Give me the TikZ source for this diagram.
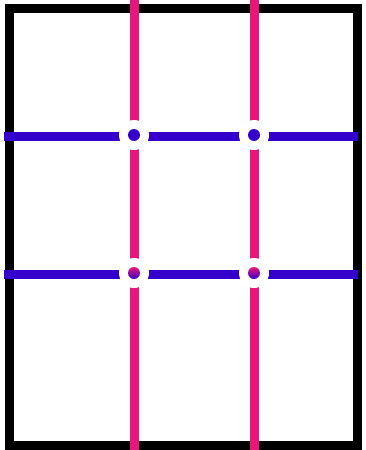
\documentclass[tikz,border=0pt]{standalone}
\usepackage{tikz}
\usetikzlibrary{positioning}
\definecolor{gridpink}{RGB}{232,22,122}
\definecolor{gridblue}{RGB}{52,0,204}

\begin{document}
\begin{tikzpicture}[x=1pt, y=-1pt,
  frame/.style={draw=black, line width=9pt},
  vline/.style={draw=gridpink, line width=9pt},
  hline/.style={draw=gridblue, line width=9pt},
  gap/.style={circle, fill=white, inner sep=0pt, minimum size=30pt},
  knot/.style={circle, fill=gridblue, inner sep=0pt, minimum size=12pt},
  knotmix/.style={circle, inner sep=0pt, minimum size=12pt,
                  top color=gridpink, bottom color=gridblue}
]
\useasboundingbox (0,0) rectangle (365,450);
\fill[white] (0,0) rectangle (365,450);
\draw[frame] (9,8) rectangle (357.5,445);

% grid lines
\coordinate (v1t) at (134,0);   \coordinate (v1b) at (134,450);
\coordinate (v2t) at (254,0);   \coordinate (v2b) at (254,450);
\coordinate (h1l) at (4,136);   \coordinate (h1r) at (358,136);
\coordinate (h2l) at (4,274);   \coordinate (h2r) at (358,274);
\draw[vline] (v1t) -- (v1b);
\draw[vline] (v2t) -- (v2b);
\draw[hline] (h1l) -- (h1r);
\draw[hline] (h2l) -- (h2r);

% crossings
\node[gap] (g11) at (134,135) {};
\node[gap] (g21) at (254,135) {};
\node[gap] (g12) at (134,273) {};
\node[gap] (g22) at (254,273) {};
\node[knot]    (k11) at (g11) {};
\node[knot]    (k21) at (g21) {};
\node[knotmix] (k12) at (g12) {};
\node[knotmix] (k22) at (g22) {};
\end{tikzpicture}
\end{document}
